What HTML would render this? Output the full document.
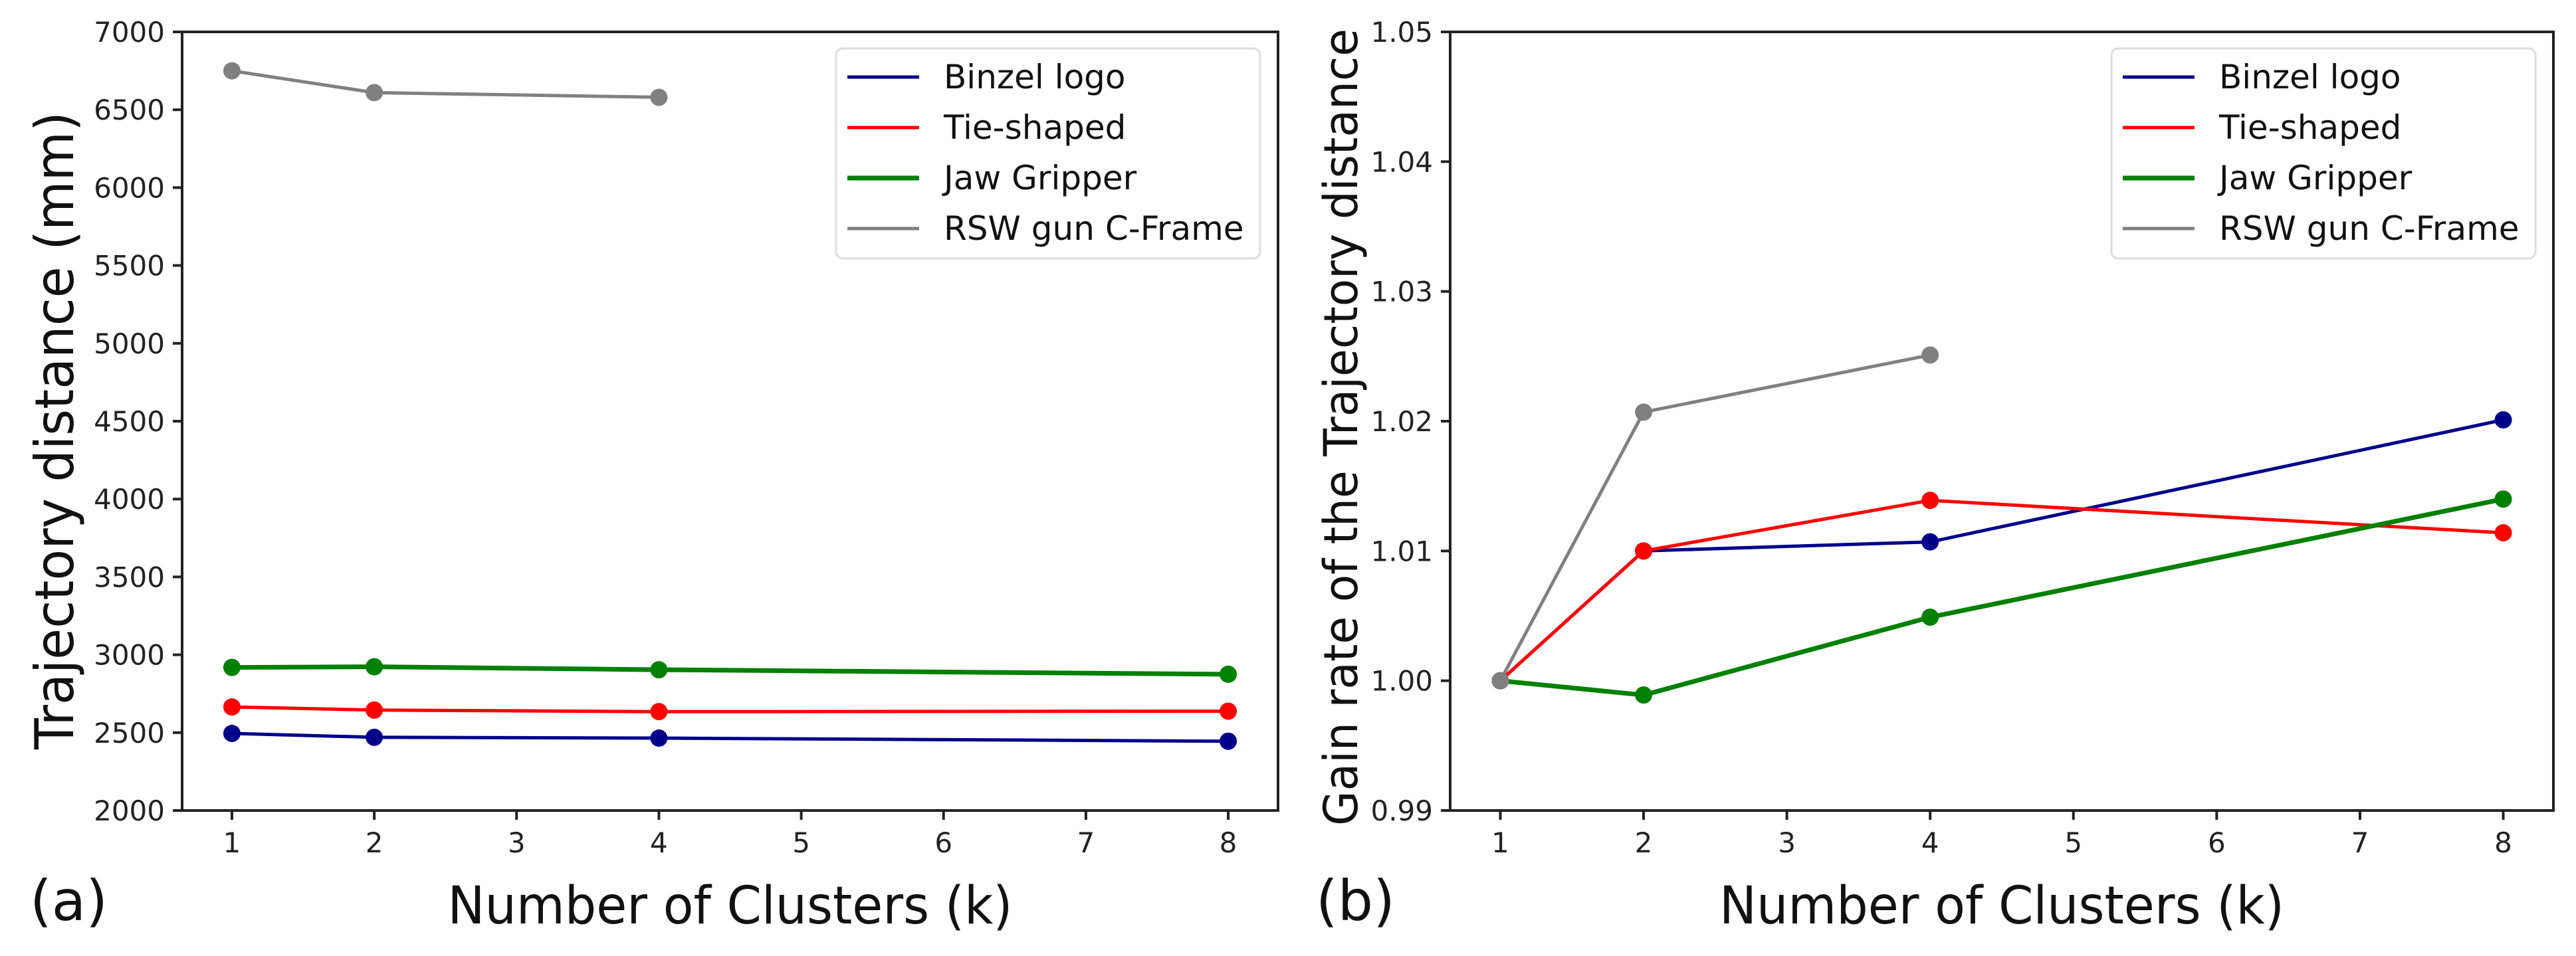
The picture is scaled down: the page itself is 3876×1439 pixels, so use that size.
<!DOCTYPE html>
<html><head><meta charset="utf-8">
<style>
html,body{margin:0;padding:0;background:#fff;}
svg{display:block;font-family:"DejaVu Sans","Liberation Sans",sans-serif;}
</style></head>
<body>
<svg id="fig" width="3876" height="1439" viewBox="0 0 3876 1439" xmlns="http://www.w3.org/2000/svg"></svg>
<script>
const categories = [1, 2, 4, 8];
const seriesNames = ["Binzel logo", "Tie-shaped", "Jaw Gripper", "RSW gun C-Frame"];
const seriesColors = ["#00008b", "#ff0000", "#008000", "#808080"];
const distBinzel = [2495, 2470, 2465, 2445];
const distTie = [2665, 2645, 2635, 2638];
const distJaw = [2919, 2923, 2904, 2875];
const distRSW = [6750, 6610, 6580];
const gainBinzel = [1.000, 1.0100, 1.0107, 1.0201];
const gainTie = [1.000, 1.0100, 1.0139, 1.0114];
const gainJaw = [1.000, 0.9989, 1.0049, 1.0140];
const gainRSW = [1.000, 1.0207, 1.0251];
const xTicks = [1, 2, 3, 4, 5, 6, 7, 8];
const yTicksA = [2000, 2500, 3000, 3500, 4000, 4500, 5000, 5500, 6000, 6500, 7000];
const yTicksB = [0.99, 1.00, 1.01, 1.02, 1.03, 1.04, 1.05];

const NS = "http://www.w3.org/2000/svg";
const svg = document.getElementById("fig");
function mk(tag, attrs, parent) {
  const e = document.createElementNS(NS, tag);
  for (const k in attrs) e.setAttribute(k, attrs[k]);
  (parent || svg).appendChild(e);
  return e;
}

function panel(opt) {
  const g = mk("g", {});
  
  
  const L = opt.left, R = opt.right, T = 48, B = 1220;
  const xmin = 0.65, xmax = 8.35;
  const sx = v => L + (v - xmin) / (xmax - xmin) * (R - L);
  const sy = v => B - (v - opt.ymin) / (opt.ymax - opt.ymin) * (B - T);

  // series
  const data = opt.data;
  data.forEach((vals, si) => {
    const pts = vals.map((v, i) => sx(categories[i]).toFixed(1) + "," + sy(v).toFixed(1)).join(" ");
    const pl = mk("polyline", {points: pts, fill: "none", stroke: seriesColors[si], "stroke-width": si === 2 ? 7 : 5, "stroke-linejoin": "round"}, g);
    
    
    vals.forEach((v, i) => {
      const c = mk("circle", {cx: sx(categories[i]), cy: sy(v), r: 13, fill: seriesColors[si]}, g);
      
      
    });
  });

  // frame
  const fr = mk("rect", {x: L, y: T, width: R - L, height: B - T, fill: "none", stroke: "#222", "stroke-width": 4}, g);
  
  

  // x ticks
  xTicks.forEach(t => {
    const x = sx(t);
    mk("line", {x1: x, y1: B, x2: x, y2: B + 14, stroke: "#222", "stroke-width": 4}, g);
    const tx = mk("text", {x: x, y: 1283, "font-size": 42, "text-anchor": "middle", fill: "#222"}, g);
    tx.textContent = t;
    
    
  });
  // y ticks
  opt.yTicks.forEach(t => {
    const y = sy(t);
    mk("line", {x1: L - 14, y1: y, x2: L, y2: y, stroke: "#222", "stroke-width": 4}, g);
    const tx = mk("text", {x: L - 26, y: y + 15, "font-size": 42, "text-anchor": "end", fill: "#222"}, g);
    tx.textContent = opt.fmt(t);
    
    
  });

  // axis titles
  const xt = mk("text", {x: (L + R) / 2, y: 1390, "font-size": 78, "text-anchor": "middle", fill: "#111", textLength: 850, lengthAdjust: "spacingAndGlyphs"}, g);
  xt.textContent = "Number of Clusters (k)";
  
  

  const yt = mk("text", {x: 0, y: 0, "font-size": opt.yFont, "text-anchor": "middle", fill: "#111", textLength: opt.yLen, lengthAdjust: "spacingAndGlyphs",
    transform: "translate(" + opt.yX + "," + opt.yCy + ") rotate(-90)"}, g);
  yt.textContent = opt.ytitle;
  
  

  const pl = mk("text", {x: opt.tagX, y: 1385, "font-size": 84, fill: "#111"}, g);
  pl.textContent = opt.tag;
  
  

  // legend
  const lg = mk("g", {}, g);
  
  
  const lx = R - 27 - 638;
  mk("rect", {x: lx, y: 73, width: 638, height: 316, rx: 10, fill: "#fff", stroke: "#ddd", "stroke-width": 3}, lg);
  seriesNames.forEach((n, i) => {
    const y = 116 + i * 76;
    const en = mk("g", {}, lg);
    
    
    mk("line", {x1: lx + 17, y1: y, x2: lx + 125, y2: y, stroke: seriesColors[i], "stroke-width": i === 2 ? 7 : 5}, en);
    const t = mk("text", {x: lx + 162, y: y + 17, "font-size": 50, fill: "#111"}, en);
    t.textContent = n;
  });
}

panel({name: "panel-a", left: 274, right: 1923, ymin: 2000, ymax: 7000, yTicks: yTicksA, fmt: t => String(t),
  data: [distBinzel, distTie, distJaw, distRSW], ytitle: "Trajectory distance (mm)", yFont: 80, yLen: 960, yX: 110, yCy: 648, tag: "(a)", tagX: 45});
panel({name: "panel-b", left: 2182, right: 3842, ymin: 0.99, ymax: 1.05, yTicks: yTicksB, fmt: t => t.toFixed(2),
  data: [gainBinzel, gainTie, gainJaw, gainRSW], ytitle: "Gain rate of the Trajectory distance", yFont: 70, yLen: 1200, yX: 2042, yCy: 643, tag: "(b)", tagX: 1980});
</script>
</body></html>
